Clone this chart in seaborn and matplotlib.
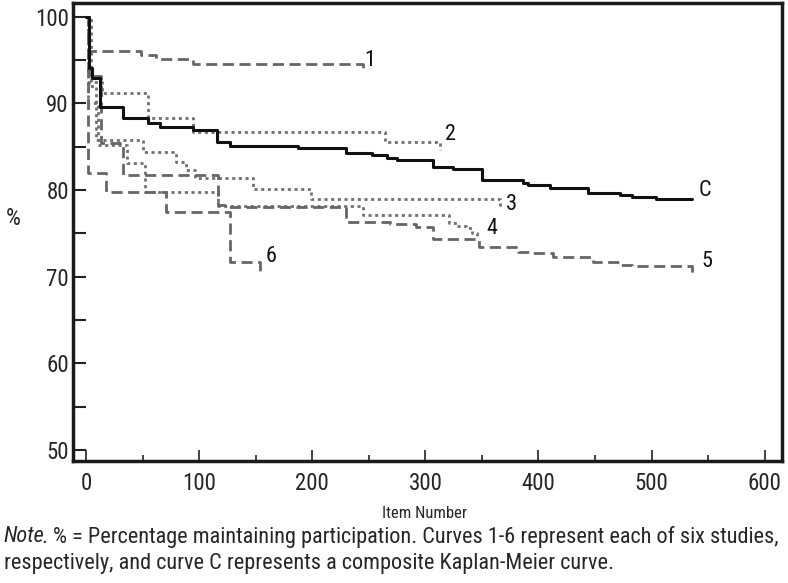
import numpy as np
import pandas as pd
import matplotlib.pyplot as plt
import seaborn as sns
from matplotlib.ticker import MultipleLocator

# step curves (item number, % maintaining participation)
c_x = [0, 3, 5, 12, 33, 55, 65, 95, 116, 127, 187, 230, 253, 266, 275, 307, 324, 350, 386, 391, 410, 444, 472, 483, 504, 536]
c_y = [100, 94.1, 92.9, 89.6, 88.3, 87.7, 87.3, 86.9, 85.5, 85.1, 84.9, 84.3, 84.0, 83.7, 83.5, 82.7, 82.4, 81.2, 80.8, 80.6, 80.2, 79.6, 79.4, 79.2, 79.0, 79.0]

s1_x = [0, 3, 49, 62, 95, 245, 245]
s1_y = [100, 96.0, 95.6, 95.1, 94.5, 94.5, 93.5]

s2_x = [0, 4, 14, 55, 95, 264, 313, 313]
s2_y = [100, 92.5, 91.2, 88.3, 86.7, 85.5, 85.5, 84.6]

s3_x = [0, 3, 9, 50, 80, 88, 96, 148, 199, 366, 366]
s3_y = [100, 92.0, 85.8, 84.4, 83.2, 82.3, 81.4, 80.1, 79.0, 79.0, 77.9]

s4_x = [0, 2, 11, 36, 52, 117, 245, 321, 328, 336, 341, 346, 346]
s4_y = [100, 90.0, 85.2, 83.1, 79.8, 78.2, 77.1, 76.2, 75.9, 75.6, 75.0, 75.0, 74.3]

s5_x = [0, 3, 13, 33, 117, 125, 230, 269, 292, 307, 347, 382, 392, 413, 448, 472, 483, 536, 536]
s5_y = [100, 93.2, 85.4, 81.7, 78.3, 78.0, 76.3, 76.1, 75.7, 74.3, 73.4, 72.9, 72.7, 72.3, 71.7, 71.4, 71.2, 71.2, 70.0]

s6_x = [0, 2, 18, 71, 127, 154, 154]
s6_y = [100, 82.0, 79.8, 77.5, 71.7, 71.7, 70.5]

curve_names = ["1", "2", "3", "4", "5", "6", "C"]
label_x = [251, 322, 376, 359, 549, 164, 547]
label_y = [95.0, 86.4, 78.3, 75.6, 71.7, 72.3, 80.0]

curves = {
    "1": (s1_x, s1_y, "dash"),
    "2": (s2_x, s2_y, "dot"),
    "3": (s3_x, s3_y, "dot"),
    "4": (s4_x, s4_y, "dot"),
    "5": (s5_x, s5_y, "dash"),
    "6": (s6_x, s6_y, "dash"),
    "C": (c_x, c_y, "solid"),
}

sns.set_style("ticks")
narrow = ["Liberation Sans Narrow", "Roboto Condensed", "Noto Sans Condensed",
          "Open Sans Condensed", "Liberation Sans", "DejaVu Sans"]
plt.rcParams["font.family"] = narrow

fig = plt.figure(figsize=(7.88, 5.83), dpi=100)
ax = fig.add_axes([0.0926, 0.209, 0.8994, 0.786])

styles = {
    "dash": dict(color="#666666", linewidth=2.0, dashes=(4, 2)),
    "dot": dict(color="#707070", linewidth=2.0, dashes=(1.1, 1.3)),
    "solid": dict(color="#111111", linewidth=2.2),
}

for name in curve_names:
    xs, ys, kind = curves[name]
    df = pd.DataFrame({"item": xs, "pct": ys})
    sns.lineplot(data=df, x="item", y="pct", estimator=None, sort=False,
                 drawstyle="steps-post", ax=ax, **styles[kind])

for name, lx, ly in zip(curve_names, label_x, label_y):
    ax.text(lx, ly, name, fontsize=16, ha="center", va="center", color="#111111")

ax.set_xlim(-11.5, 615)
ax.set_ylim(48.7, 101.6)
ax.xaxis.set_major_locator(MultipleLocator(100))
ax.xaxis.set_minor_locator(MultipleLocator(50))
ax.yaxis.set_major_locator(MultipleLocator(10))
ax.yaxis.set_minor_locator(MultipleLocator(5))
ax.tick_params(axis="y", which="both", direction="in", length=9, width=1.5,
               color="#222222", labelsize=16.5, pad=3)
ax.tick_params(axis="x", which="major", direction="in", length=8, width=1.2,
               color="#222222", labelsize=16.5, pad=8)
ax.tick_params(axis="x", which="minor", direction="in", length=4, width=1.2, color="#222222")

for sp in ax.spines.values():
    sp.set_visible(True)
    sp.set_linewidth(2.5)
    sp.set_color("#1a1a1a")

ax.set_xlabel("Item Number", fontsize=12)
ax.xaxis.set_label_coords(0.496, -0.097)
ax.set_ylabel("%", fontsize=17, rotation=0, va="center", ha="center")
ax.yaxis.set_label_coords(-0.085, 0.53)

# note below the chart, scaled to span the same width as in the original
line1_rest = ". % = Percentage maintaining participation. Curves 1-6 represent each of six studies,"
line2 = "respectively, and curve C represents a composite Kaplan-Meier curve."
fs = 15
t_note = fig.text(0.005, 0.079, "Note", fontsize=fs, style="italic", va="center")
t_rest = fig.text(0.05, 0.079, line1_rest, fontsize=fs, va="center")
fig.canvas.draw()
r = fig.canvas.get_renderer()
w_total = t_note.get_window_extent(r).width + t_rest.get_window_extent(r).width
fs = fs * 777 / w_total
t_note.set_fontsize(fs)
t_rest.set_fontsize(fs)
fig.canvas.draw()
w_note = t_note.get_window_extent(r).width
t_rest.set_x((4 + w_note - 3) / fig.bbox.width)
fig.text(0.005, 0.034, line2, fontsize=fs, va="center")

fig.savefig("out.png", dpi=100)
